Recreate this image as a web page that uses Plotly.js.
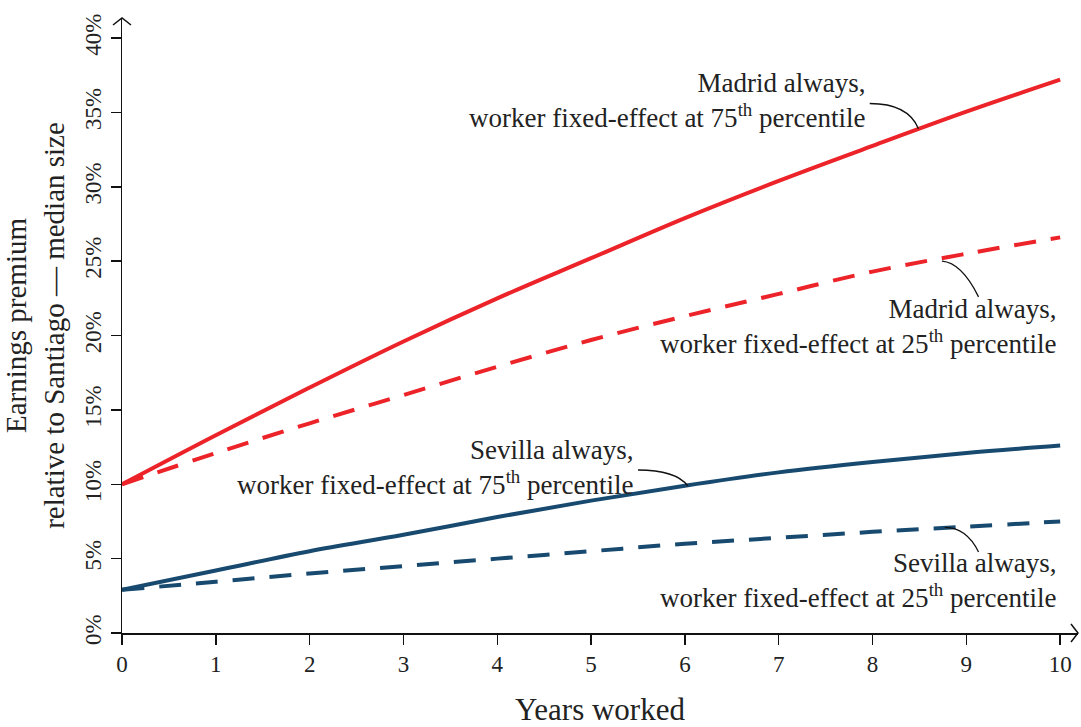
<!DOCTYPE html>
<html>
<head>
<meta charset="utf-8">
<script src="https://cdn.plot.ly/plotly-3.0.1.min.js"></script>
<style>html,body{margin:0;padding:0;background:#fff;}#chart{width:1081px;height:727px;}</style>
</head>
<body>
<div id="chart"></div>
<script>
const years = [0, 1, 2, 3, 4, 5, 6, 7, 8, 9, 10];
const madrid75 = [10.0, 13.3, 16.5, 19.6, 22.5, 25.2, 27.9, 30.4, 32.75, 35.05, 37.2];
const madrid25 = [10.0, 12.1, 14.1, 16.0, 17.9, 19.7, 21.3, 22.8, 24.3, 25.5, 26.6];
const sevilla75 = [2.9, 4.2, 5.5, 6.6, 7.8, 8.9, 9.9, 10.8, 11.5, 12.1, 12.6];
const sevilla25 = [2.9, 3.45, 4.0, 4.5, 5.0, 5.5, 6.0, 6.4, 6.8, 7.15, 7.5];
const yTicks = [0, 5, 10, 15, 20, 25, 30, 35, 40];
const xTicks = [0, 1, 2, 3, 4, 5, 6, 7, 8, 9, 10];
const labels = [
  "Madrid always,<br>worker fixed-effect at 75<sup>th</sup> percentile",
  "Madrid always,<br>worker fixed-effect at 25<sup>th</sup> percentile",
  "Sevilla always,<br>worker fixed-effect at 75<sup>th</sup> percentile",
  "Sevilla always,<br>worker fixed-effect at 25<sup>th</sup> percentile"
];

const RED = '#ec2329';
const BLUE = '#184a6f';
const FONT = '"Liberation Serif", "DejaVu Serif", serif';

const traces = [
  {x: years, y: madrid75, mode: 'lines', line: {color: RED, width: 4, shape: 'spline'}},
  {x: years, y: madrid25, mode: 'lines', line: {color: RED, width: 4, dash: '22px,15px', shape: 'spline'}},
  {x: years, y: sevilla75, mode: 'lines', line: {color: BLUE, width: 4, shape: 'spline'}},
  {x: years, y: sevilla25, mode: 'lines', line: {color: BLUE, width: 4, dash: '22px,15px', shape: 'spline'}}
];

const annFont = {family: FONT, size: 27, color: '#222'};
const annotations = [
  {x: 7.95, y: 35.8, text: labels[0]},
  {x: 9.99, y: 20.6, text: labels[1]},
  {x: 5.48, y: 11.1, text: labels[2]},
  {x: 9.99, y: 3.55, text: labels[3]}
].map(a => Object.assign({xref: 'x', yref: 'y', xanchor: 'right', yanchor: 'middle', align: 'right', showarrow: false, font: annFont}, a));

const leader = {type: 'path', xref: 'x', yref: 'y', line: {color: '#111', width: 1.3}};
const shapes = [
  Object.assign({path: 'M 7.97,35.6 Q 8.38,35.6 8.49,33.9'}, leader),
  Object.assign({path: 'M 8.74,25.0 Q 8.95,24.9 9.13,22.6'}, leader),
  Object.assign({path: 'M 5.5,10.96 Q 5.9,10.96 6.03,9.9'}, leader),
  Object.assign({path: 'M 8.77,7.1 Q 9.0,7.1 9.13,5.45'}, leader),
  // axis arrow heads
  {type: 'path', xref: 'paper', yref: 'paper', xsizemode: 'pixel', ysizemode: 'pixel', xanchor: 0, yanchor: 1,
   path: 'M -9,-7 L 0,0 L 9,-7', line: {color: '#111', width: 1.5}},
  {type: 'path', xref: 'paper', yref: 'paper', xsizemode: 'pixel', ysizemode: 'pixel', xanchor: 1, yanchor: 0,
   path: 'M -7,9 L 0,0 L -7,-9', line: {color: '#111', width: 1.5}}
];

const layout = {
  width: 1081, height: 727,
  margin: {l: 122, r: 3, t: 18, b: 94},
  paper_bgcolor: '#fff', plot_bgcolor: '#fff',
  showlegend: false,
  font: {family: FONT, color: '#222'},
  xaxis: {
    range: [0, 10.19], tickvals: xTicks, ticktext: xTicks.map(String),
    showgrid: false, zeroline: false, showline: true, linecolor: '#111', linewidth: 1.5,
    ticks: 'outside', ticklen: 10, tickwidth: 1.5, tickcolor: '#111',
    tickfont: {family: FONT, size: 23, color: '#222'},
    title: {text: 'Years worked', font: {family: FONT, size: 31, color: '#222'}, standoff: 30}
  },
  yaxis: {
    range: [0, 41.35], tickvals: yTicks, ticktext: yTicks.map(v => v + '%'),
    showgrid: false, zeroline: false, showline: true, linecolor: '#111', linewidth: 1.5,
    ticks: 'outside', ticklen: 10, tickwidth: 1.5, tickcolor: '#111', tickangle: -90,
    tickfont: {family: FONT, size: 23, color: '#222'},
    title: {text: 'Earnings premium<br>relative to Santiago — median size', font: {family: FONT, size: 29, color: '#222'}, standoff: 10}
  },
  annotations: annotations,
  shapes: shapes
};

Plotly.newPlot('chart', traces, layout, {displayModeBar: false, staticPlot: true});
</script>
</body>
</html>
